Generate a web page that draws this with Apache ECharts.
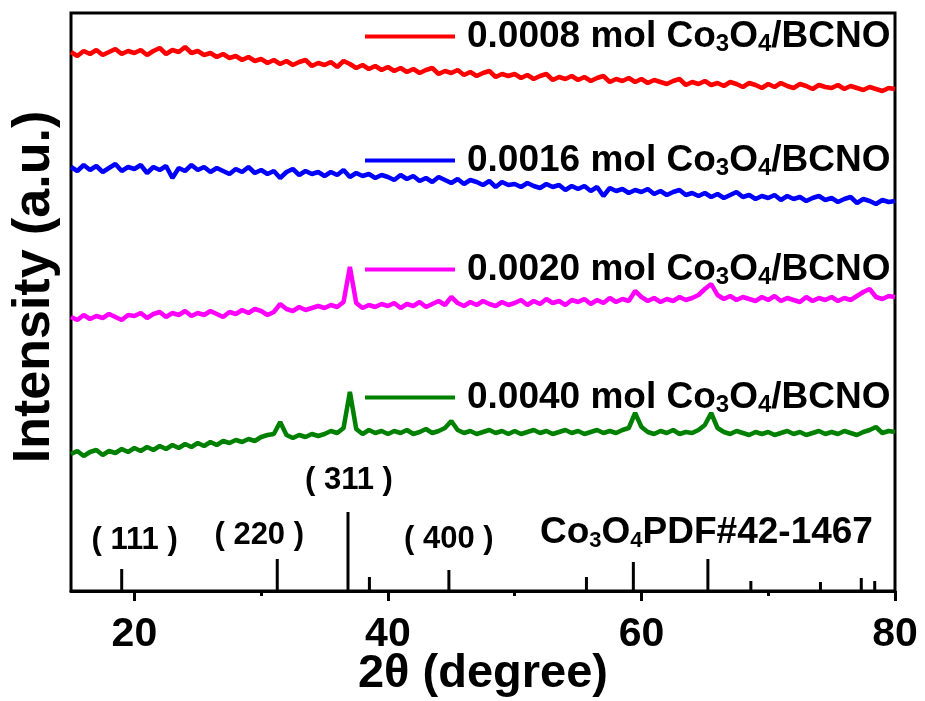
<!DOCTYPE html>
<html>
<head>
<meta charset="utf-8">
<script src="https://cdn.jsdelivr.net/npm/echarts@6/dist/echarts.min.js"></script>
<style>
  html, body { margin: 0; padding: 0; background: #fff; }
  #chart { width: 925px; height: 701px; }
</style>
</head>
<body>
<div id="chart"></div>
<script>
// XRD patterns of Co3O4/BCNO composites, sampled every 0.5 degree from 15 to 80 (2θ)
const twoThetaStart = 15;
const twoThetaStep = 0.5;

const seriesAmounts = ['0.0008', '0.0016', '0.0020', '0.0040'];
const seriesNames = seriesAmounts.map(a => a + ' mol Co3O4/BCNO');
const seriesColors = ['#ff0000', '#0000ff', '#ff00ff', '#008000'];

const intensity0008 = [
  539, 535, 540, 537, 541, 536, 539, 542, 537, 540,
  538, 541, 536, 540, 543, 537, 541, 539, 544, 538,
  540, 536, 538, 534, 537, 533, 535, 531, 534, 530,
  532, 528, 531, 527, 530, 526, 529, 531, 525, 528,
  526, 529, 524, 530, 527, 523, 526, 522, 525, 521,
  524, 520, 523, 519, 522, 518, 521, 523, 517, 520,
  518, 521, 516, 519, 515, 518, 520, 514, 517, 515,
  517, 513, 516, 512, 515, 517, 511, 514, 512, 515,
  511, 514, 510, 513, 515, 509, 512, 510, 513, 509,
  512, 508, 511, 509, 507, 510, 512, 506, 509, 507,
  510, 506, 508, 505, 509, 507, 504, 508, 506, 503,
  507, 504, 508, 505, 503, 507, 505, 502, 506, 504,
  503, 506, 502, 505, 503, 501, 504, 502, 500, 503,
  502
];

const intensity0016 = [
  424, 420, 426, 421, 425, 419, 423, 427, 420, 424,
  422, 426, 418, 424, 421, 425, 413, 423, 420, 426,
  421, 424, 419, 423, 420, 417, 422, 419, 424, 418,
  421, 417, 420, 413, 419, 422, 416, 420, 417, 419,
  415, 419, 416, 421, 414, 418, 415, 417, 413, 416,
  414, 411, 416, 412, 415, 410, 413, 409, 414, 411,
  408, 412, 407, 411, 409, 406, 410, 404, 409, 406,
  407, 404, 408, 405, 403, 407, 404, 406, 401, 405,
  402, 405, 400, 404, 395, 403, 400, 402, 398, 401,
  399, 402, 397, 400, 396, 399, 401, 396, 398, 395,
  398, 394, 397, 393, 396, 399, 394, 396, 392, 395,
  393, 396, 391, 395, 392, 394, 390, 393, 395, 391,
  393, 389, 392, 394, 388, 392, 390, 387, 391, 389,
  390
];

const intensity0020 = [
  274, 271, 276, 272, 275, 273, 277, 274, 271, 276,
  275, 278, 273, 277, 279, 274, 278, 276, 280, 275,
  278, 276, 280, 277, 274, 279, 277, 281, 278, 282,
  280, 276, 279, 287, 282, 280, 284, 281, 283, 285,
  283, 286, 284, 289, 324, 288, 283, 286, 284, 287,
  285, 288, 283, 287, 285, 289, 284, 287, 290, 286,
  294, 288, 285, 289, 286, 290, 287, 285, 289, 286,
  288, 291, 286, 290, 287, 292, 288, 290, 286, 291,
  289, 292, 287, 291, 288, 293, 289, 292, 290, 300,
  294, 290, 293, 289, 292, 290, 294, 291, 293, 296,
  302, 307, 296, 292, 295, 291, 294, 292, 290, 294,
  291, 295, 290, 293, 291, 289, 294, 290, 293, 291,
  294, 290, 293, 291, 295, 299, 302, 294, 292, 295,
  294
];

const intensity0040 = [
  137, 140, 135, 139, 141, 136, 140, 138, 142, 139,
  143, 140, 144, 141, 145, 142, 146, 143, 147, 144,
  148, 145, 149, 146, 150, 148, 151, 149, 152, 150,
  154, 156, 157, 169, 156, 153, 156, 154, 157, 155,
  157, 160, 158, 163, 199, 162, 157, 161, 158, 160,
  157, 160, 158, 161, 157, 159, 162, 158, 160, 163,
  170, 161, 158, 160, 157, 159, 161, 158, 160, 157,
  160, 157, 159, 161, 158, 160, 157, 159, 161, 158,
  160, 157, 159, 161, 158, 160, 158, 161, 163, 178,
  164, 159, 157, 160, 158, 161, 157, 159, 158, 161,
  166, 178, 163, 159, 157, 160, 158, 156, 159, 157,
  159, 156, 158, 160, 157, 159, 156, 158, 160, 157,
  159, 157, 160, 158, 156, 159, 161, 164, 158, 160,
  159
];

// Standard card PDF#42-1467 (Co3O4): line positions, relative heights, indices
const pdfPositions = [19.0, 31.27, 36.85, 38.54, 44.81, 55.66, 59.36, 65.24, 68.63, 74.12, 77.34, 78.4];
const pdfHeights   = [22, 32, 79, 14, 21, 14, 29, 32, 10, 9, 13, 10];
const pdfLabels    = ['( 111 )', '( 220 )', '( 311 )', '', '( 400 )', '', '', '', '', '', '', ''];

const xMajorTicks = [20, 40, 60, 80];
const xMinorTicks = [30, 50, 70];

const FONT = 'Liberation Sans, Arial, Helvetica, sans-serif';

function toPairs(values) {
  return values.map((v, i) => [twoThetaStart + i * twoThetaStep, v]);
}

const traces = [intensity0008, intensity0016, intensity0020, intensity0040];

// legend label with subscripted 3 and 4 in Co3O4
function richName(name) {
  const amount = name.split(' ')[0];
  return '{m|' + amount + ' mol Co}{s|3}{m|O}{s|4}{m|/BCNO}';
}
const legendRich = {
  m: { fontSize: 37, fontWeight: 'bold', color: '#000', fontFamily: FONT, lineHeight: 40 },
  s: { fontSize: 24, fontWeight: 'bold', color: '#000', fontFamily: FONT, lineHeight: 16, verticalAlign: 'bottom' }
};

const legendTops = [18, 142, 251, 379];

const pdfLabelOffsets = [[13, -8], [-18, -3], [1, -11], [0, 0], [0, -10]];

const option = {
  animation: false,
  backgroundColor: '#fff',
  grid: {
    left: 71, right: 30, top: 13, bottom: 110,
    show: true, borderColor: '#000', borderWidth: 3,
    outerBoundsMode: 'none'
  },
  xAxis: [
    {
      type: 'value', min: 15, max: 80,
      name: '2θ (degree)', nameLocation: 'middle', nameGap: 60,
      nameMoveOverlap: false,
      nameTextStyle: { fontSize: 47, fontWeight: 'bold', color: '#000', fontFamily: FONT },
      axisLine: { show: true, lineStyle: { color: '#000', width: 3 } },
      axisTick: { show: true, customValues: xMajorTicks, length: 10, lineStyle: { color: '#000', width: 3 } },
      axisLabel: { show: true, customValues: xMajorTicks, fontSize: 41, fontWeight: 'bold', color: '#000', fontFamily: FONT, margin: 23 },
      splitLine: { show: false }
    },
    {
      type: 'value', min: 15, max: 80, position: 'bottom',
      axisLine: { show: false },
      axisTick: { show: true, customValues: xMinorTicks, length: 5, lineStyle: { color: '#000', width: 3 } },
      axisLabel: { show: false },
      splitLine: { show: false }
    }
  ],
  yAxis: {
    type: 'value', min: 0, max: 578,
    name: 'Intensity (a.u.)', nameLocation: 'middle', nameGap: 10,
    nameTextStyle: { fontSize: 52, fontWeight: 'bold', color: '#000', fontFamily: FONT, padding: [0, 0, 0, 30] },
    axisLine: { show: false }, axisTick: { show: false }, axisLabel: { show: false },
    splitLine: { show: false }
  },
  legend: seriesNames.map((name, i) => ({
    data: [name],
    left: 365, top: legendTops[i],
    padding: 0, itemGap: 0,
    itemWidth: 90, itemHeight: 4, icon: 'rect',
    selectedMode: false,
    formatter: n => richName(n),
    textStyle: { rich: legendRich, padding: [0, 0, 0, 7] }
  })),
  series: [
    ...seriesNames.map((name, i) => ({
      name, type: 'line',
      data: toPairs(traces[i]),
      showSymbol: false, symbol: 'none',
      lineStyle: { color: seriesColors[i], width: 4.5 },
      itemStyle: { color: seriesColors[i] },
      z: 3
    })),
    {
      name: 'PDF#42-1467', type: 'bar',
      barWidth: 3,
      itemStyle: { color: '#000' },
      data: pdfPositions.map((p, i) => {
        const item = { value: [p, pdfHeights[i]] };
        if (pdfLabels[i]) {
          item.label = {
            show: true, position: 'top', formatter: pdfLabels[i],
            offset: pdfLabelOffsets[i],
            fontSize: 31, fontWeight: 'bold', color: '#000', fontFamily: FONT
          };
        }
        return item;
      }),
      z: 2
    }
  ],
  graphic: [
    {
      type: 'text', left: 540, top: 514,
      style: {
        text: '{m|Co}{s|3}{m|O}{s|4}{m|PDF#42-1467}',
        rich: {
          m: { fontSize: 37, fontWeight: 'bold', fill: '#000', fontFamily: FONT, lineHeight: 38 },
          s: { fontSize: 22, fontWeight: 'bold', fill: '#000', fontFamily: FONT, lineHeight: 14, verticalAlign: 'bottom' }
        }
      }
    }
  ]
};

const chart = echarts.init(document.getElementById('chart'), null, { renderer: 'canvas' });
chart.setOption(option);
</script>
</body>
</html>
